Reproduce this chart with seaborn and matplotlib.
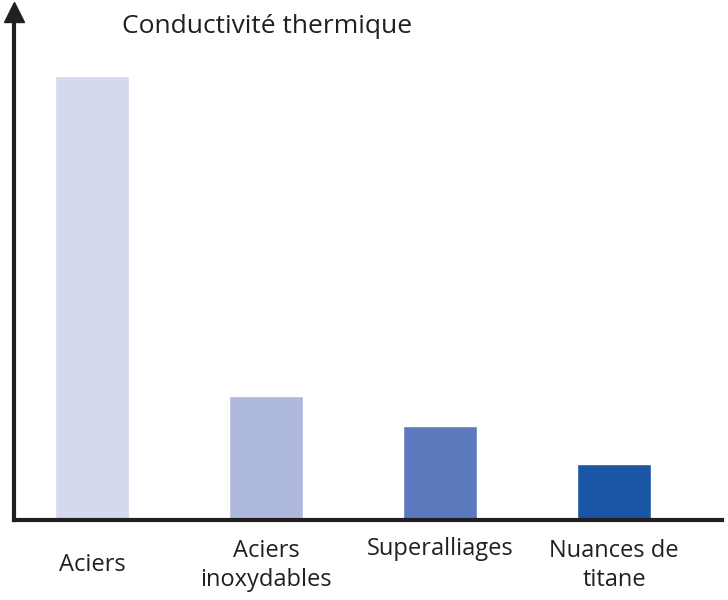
import numpy as np
import pandas as pd
import matplotlib
matplotlib.use("Agg")
import matplotlib.pyplot as plt
import seaborn as sns

# donnees (unites arbitraires)
categories = ["Aciers", "Aciers\ninoxydables", "Superalliages", "Nuances de\ntitane"]
conductivite = [44.4, 12.4, 9.4, 5.6]
couleurs = ["#D3D9EE", "#AFB9DE", "#5B79BC", "#1A56A5"]

df = pd.DataFrame({"cat": categories, "val": conductivite})

sns.set_style("white")
plt.rcParams["font.family"] = ["Open Sans", "DejaVu Sans"]

fig = plt.figure(figsize=(7.28, 6), dpi=100)
ax = fig.add_axes([14 / 728, 80 / 600, 708 / 728, 508 / 600])

sns.barplot(data=df, x="cat", y="val", hue="cat", palette=couleurs,
            width=0.425, dodge=False, legend=False, saturation=1, ax=ax)

ax.set_xlim(-0.448, 3.621)
ax.set_ylim(0, 50.8)

for s in ["top", "right"]:
    ax.spines[s].set_visible(False)
for s in ["left", "bottom"]:
    ax.spines[s].set_linewidth(3)
    ax.spines[s].set_color("#231F20")

ax.set_xticks([])
ax.set_yticks([])
ax.set_xlabel("")
ax.set_ylabel("")

# fleche en haut de l'axe
ax.plot(0, 1, marker="^", markersize=15, color="#231F20",
        transform=ax.transAxes, clip_on=False)

ax.text(0.152, 0.972, "Conductivité thermique", transform=ax.transAxes,
        fontsize=19, color="#231F20", va="center", ha="left")

# etiquettes sous l'axe
trans = ax.get_xaxis_transform()
label_y = [-0.089, -0.089, -0.058, -0.089]
for i, lab in enumerate(categories):
    ax.text(i, label_y[i], lab, transform=trans, ha="center", va="center",
            fontsize=17, color="#231F20", linespacing=1.3)

fig.savefig("out.png", dpi=100)
